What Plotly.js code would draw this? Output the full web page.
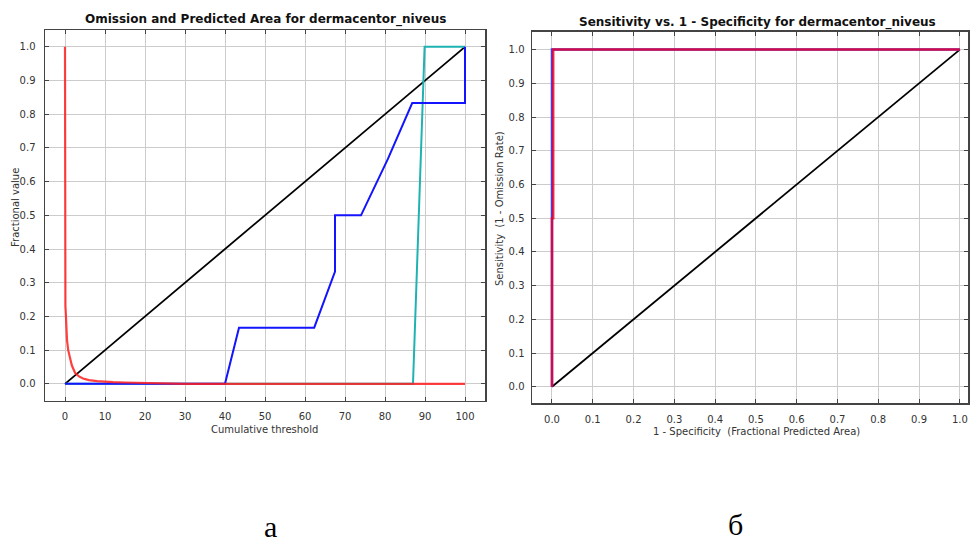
<!DOCTYPE html>
<html>
<head>
<meta charset="utf-8">
<script src="https://cdn.plot.ly/plotly-3.0.1.min.js"></script>
<style>html,body{margin:0;padding:0;background:#fff;}#chart{width:970px;height:542px;}</style>
</head>
<body>
<div id="chart"></div>
<script>
// ---- Left chart: Omission and Predicted Area ----
const refX = [0, 100];
const refY = [0, 1];
const fracAreaX = [0, 0, 0.1, 0.2, 0.3, 0.5, 0.8, 1.2, 1.7, 2.5, 3.5, 4.5, 6, 8, 10, 12, 15, 18, 22, 30, 50, 70, 90, 100];
const fracAreaY = [1.0, 0.5, 0.23, 0.21, 0.15, 0.13, 0.10, 0.075, 0.055, 0.033, 0.022, 0.016, 0.011, 0.008, 0.006, 0.005, 0.004, 0.003, 0.001, 0, 0, 0, 0, 0];
const trainOmX = [0, 40, 43.5, 62.3, 67.5, 67.5, 74, 80.7, 86.8, 100, 100];
const trainOmY = [0, 0, 0.1667, 0.1667, 0.3333, 0.5, 0.5, 0.6667, 0.8333, 0.8333, 1.0];
const testOmX = [0, 87, 89.9, 100];
const testOmY = [0, 0, 1, 1];

// ---- Right chart: ROC ----
const rocRefX = [0, 1];
const rocRefY = [0, 1];
const rocTestX = [0, 0, 1];
const rocTestY = [0, 1, 1];
const rocTrainX = [0, 0, 0.003, 0.003, 1];
const rocTrainY = [0, 0.5, 0.5, 1, 1];

const leftTitle = "Omission and Predicted Area for dermacentor_niveus";
const rightTitle = "Sensitivity vs. 1 - Specificity for dermacentor_niveus";
const leftXTitle = "Cumulative threshold";
const leftYTitle = "Fractional value";
const rightXTitle = "1 - Specificity  (Fractional Predicted Area)";
const rightYTitle = "Sensitivity  (1 - Omission Rate)";
const labelA = "а";
const labelB = "б";

const W = 970, H = 542;
const px = v => v / W;
const py = v => 1 - v / H;

const traces = [
  {x: refX, y: refY, xaxis: 'x', yaxis: 'y', mode: 'lines', line: {color: '#000', width: 1.8}},
  {x: testOmX, y: testOmY, xaxis: 'x', yaxis: 'y', mode: 'lines', line: {color: 'rgb(30,178,178)', width: 2}},
  {x: trainOmX, y: trainOmY, xaxis: 'x', yaxis: 'y', mode: 'lines', line: {color: 'rgb(20,20,255)', width: 2}},
  {x: fracAreaX, y: fracAreaY, xaxis: 'x', yaxis: 'y', mode: 'lines', line: {color: 'rgba(255,30,30,0.85)', width: 2.2}},
  {x: rocRefX, y: rocRefY, xaxis: 'x2', yaxis: 'y2', mode: 'lines', line: {color: '#000', width: 1.8}},
  {x: rocTestX, y: rocTestY, xaxis: 'x2', yaxis: 'y2', mode: 'lines', line: {color: 'rgb(60,60,255)', width: 2.5}},
  {x: rocTrainX, y: rocTrainY, xaxis: 'x2', yaxis: 'y2', mode: 'lines', line: {color: 'rgba(240,0,30,0.8)', width: 2.5}}
];

const axisFont = {family: 'DejaVu Sans, sans-serif', size: 10, color: '#333'};
const baseAxis = {
  showline: true, mirror: 'ticks', linecolor: '#444', linewidth: 1.5,
  ticks: 'inside', ticklen: 4, tickcolor: '#444', tickwidth: 1,
  showgrid: true, gridcolor: '#cccccc', gridwidth: 1, zeroline: false,
  tickfont: axisFont, fixedrange: true
};

const layout = {
  width: W, height: H,
  margin: {l: 0, r: 0, t: 0, b: 0},
  paper_bgcolor: '#fff', plot_bgcolor: '#fff',
  showlegend: false,
  xaxis: Object.assign({}, baseAxis, {domain: [px(45), px(485)], range: [-5, 105], dtick: 10, anchor: 'y', ticklabelstandoff: 6}),
  yaxis: Object.assign({}, baseAxis, {domain: [py(400.7), py(30)], range: [-0.05, 1.05], dtick: 0.1, tickformat: '.1f', anchor: 'x', ticklabelstandoff: 6}),
  xaxis2: Object.assign({}, baseAxis, {domain: [px(532), px(968)], range: [-0.049, 1.02], dtick: 0.1, tickformat: '.1f', anchor: 'y2', ticklabelstandoff: 6}),
  yaxis2: Object.assign({}, baseAxis, {domain: [py(403), py(31.7)], range: [-0.048, 1.053], dtick: 0.1, tickformat: '.1f', anchor: 'x2', ticklabelstandoff: 4}),
  annotations: [
    {text: '<b>' + leftTitle + '</b>', x: px(265.5), y: py(20), xref: 'paper', yref: 'paper', showarrow: false, xanchor: 'center', yanchor: 'middle', font: {family: 'DejaVu Sans, sans-serif', size: 12, color: '#111'}},
    {text: '<b>' + rightTitle + '</b>', x: px(757), y: py(22.5), xref: 'paper', yref: 'paper', showarrow: false, xanchor: 'center', yanchor: 'middle', font: {family: 'DejaVu Sans, sans-serif', size: 12, color: '#111'}},
    {text: leftXTitle, x: px(264), y: py(429), xref: 'paper', yref: 'paper', showarrow: false, xanchor: 'center', yanchor: 'middle', font: axisFont},
    {text: leftYTitle, x: px(15), y: py(208), xref: 'paper', yref: 'paper', showarrow: false, xanchor: 'center', yanchor: 'middle', textangle: -90, font: axisFont},
    {text: rightXTitle, x: px(756), y: py(431), xref: 'paper', yref: 'paper', showarrow: false, xanchor: 'center', yanchor: 'middle', font: axisFont},
    {text: rightYTitle, x: px(499), y: py(208), xref: 'paper', yref: 'paper', showarrow: false, xanchor: 'center', yanchor: 'middle', textangle: -90, font: axisFont},
    {text: labelA, x: px(270), y: py(526), xref: 'paper', yref: 'paper', showarrow: false, xanchor: 'center', yanchor: 'middle', font: {family: 'Liberation Serif, serif', size: 30, color: '#000'}},
    {text: labelB, x: px(735), y: py(524), xref: 'paper', yref: 'paper', showarrow: false, xanchor: 'center', yanchor: 'middle', font: {family: 'Liberation Serif, serif', size: 30, color: '#000'}}
  ]
};

Plotly.newPlot('chart', traces, layout, {staticPlot: true, displayModeBar: false});
</script>
</body>
</html>
